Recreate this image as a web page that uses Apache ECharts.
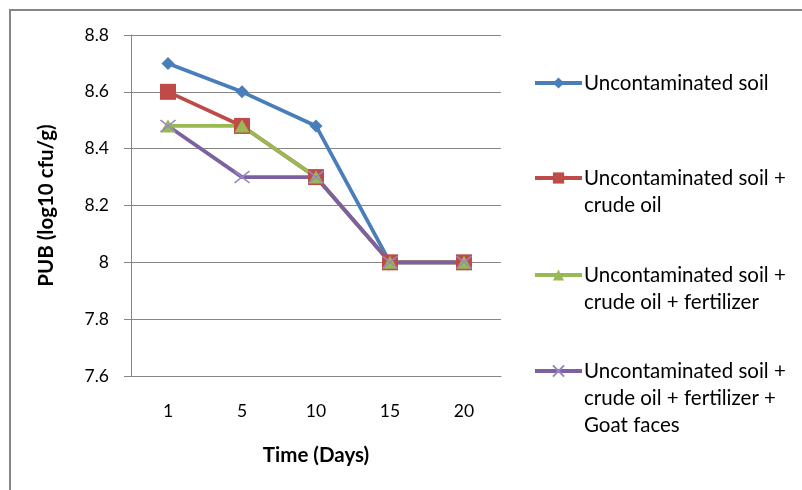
<!DOCTYPE html>
<html>
<head>
<meta charset="utf-8">
<script src="https://cdn.jsdelivr.net/npm/echarts@6/dist/echarts.min.js"></script>
<style>html,body{margin:0;padding:0;background:#fff;}#c{width:802px;height:490px;}</style>
</head>
<body>
<div id="c"></div>
<script>
const categories = ['1', '5', '10', '15', '20'];
const seriesNames = [
  'Uncontaminated soil',
  'Uncontaminated soil +\ncrude oil',
  'Uncontaminated soil +\ncrude oil + fertilizer',
  'Uncontaminated soil +\ncrude oil + fertilizer +\nGoat faces'
];
const uncontaminated = [8.70, 8.60, 8.48, 8.00, 8.00];
const crudeOil = [8.60, 8.48, 8.30, 8.00, 8.00];
const crudeOilFertilizer = [8.48, 8.48, 8.30, 8.00, 8.00];
const crudeOilFertilizerGoat = [8.48, 8.30, 8.30, 8.00, 8.00];
const yTicks = { min: 7.6, max: 8.8, interval: 0.2 };

const FONT = 'Lato, "Open Sans", sans-serif';
const colors = ['#4A7EBB', '#BE4B48', '#98B954', '#7D60A0'];
const symbols = ['diamond', 'rect', 'triangle', 'path://M0,0L10,10M10,0L0,10'];
const symbolSizes = [13, 16, [15, 13], [15, 12]];
const dataSets = [uncontaminated, crudeOil, crudeOilFertilizer, crudeOilFertilizerGoat];
const legendCenters = [83, 178, 275, 371];
const LH = 27;

const series = dataSets.map((d, i) => ({
  name: seriesNames[i],
  type: 'line',
  data: d,
  symbol: symbols[i],
  symbolSize: symbolSizes[i],
  showAllSymbol: true,
  lineStyle: { width: 3.75, color: colors[i] },
  itemStyle: i === 3 ? { color: '#9A86BF', borderColor: '#9A86BF', borderWidth: 1.5 } : { color: colors[i] },
  emphasis: { disabled: true },
  animation: false
}));

const legends = seriesNames.map((name, i) => {
  const n = name.split('\n').length;
  const total = (2 * n - 1) * LH;
  return {
    data: [name],
    left: 533,
    top: legendCenters[i] - total / 2,
    padding: 0,
    itemWidth: 47,
    itemHeight: 14,
    itemGap: 0,
    selectedMode: false,
    lineStyle: { width: 4 },
    formatter: (nm) => '\n'.repeat(n - 1) + nm,
    textStyle: { fontFamily: FONT, fontSize: 20.5, color: '#000', lineHeight: LH, padding: [0, 0, 0, -3] }
  };
});

const chart = echarts.init(document.getElementById('c'), null, { renderer: 'canvas' });
chart.setOption({
  backgroundColor: '#fff',
  animation: false,
  color: colors,
  grid: { left: 131, right: 301, top: 35, bottom: 114, containLabel: false },
  legend: legends,
  xAxis: {
    type: 'category',
    data: categories,
    boundaryGap: true,
    name: 'Time (Days)',
    nameLocation: 'middle',
    nameGap: 69,
    nameTextStyle: { fontFamily: FONT, fontSize: 20.5, fontWeight: 'bold', color: '#000' },
    axisLine: { lineStyle: { color: '#868686', width: 1 } },
    axisTick: { show: false },
    axisLabel: { fontFamily: FONT, fontSize: 17.5, color: '#000', margin: 26 }
  },
  yAxis: {
    type: 'value',
    min: yTicks.min,
    max: yTicks.max,
    interval: yTicks.interval,
    name: 'PUB (log10 cfu/g)',
    nameLocation: 'middle',
    nameGap: 74,
    nameTextStyle: { fontFamily: FONT, fontSize: 20.5, fontWeight: 'bold', color: '#000' },
    axisLine: { show: true, lineStyle: { color: '#868686', width: 1 } },
    axisTick: { show: true, length: 7, lineStyle: { color: '#868686' } },
    splitLine: { show: true, lineStyle: { color: '#868686', width: 1 } },
    axisLabel: { fontFamily: FONT, fontSize: 17.5, color: '#000', margin: 22,
      formatter: (v) => String(Math.round(v * 10) / 10) }
  },
  graphic: [{
    type: 'rect',
    shape: { x: 10, y: 10, width: 820, height: 520 },
    style: { fill: 'none', stroke: '#868686', lineWidth: 2 },
    silent: true,
    z: 100
  }],
  series: series
});
</script>
</body>
</html>
